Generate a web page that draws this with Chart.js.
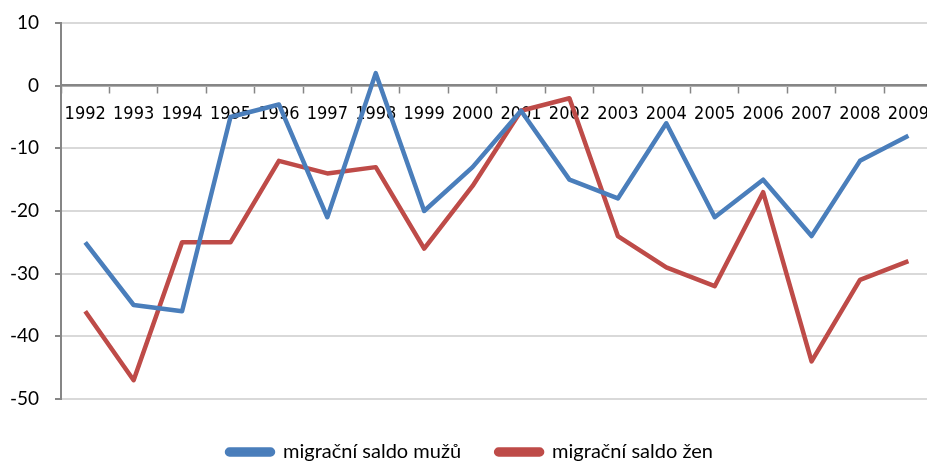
<!DOCTYPE html>
<html lang="cs">
<head>
    <meta charset="UTF-8">
    <title>Migrační saldo</title>
    <script src="https://cdn.jsdelivr.net/npm/chart.js"></script>
    <style>
        body {
            margin: 0;
            padding: 0;
            background: #fff;
            overflow: hidden;
        }

        .chart-box {
            width: 940px;
            height: 464px;
        }
    </style>
</head>
<body>
    <div class="chart-box">
        <canvas id="chart"></canvas>
    </div>

    <script>
        // data
        const years = ['1992', '1993', '1994', '1995', '1996', '1997', '1998', '1999', '2000',
                       '2001', '2002', '2003', '2004', '2005', '2006', '2007', '2008', '2009'];
        const saldoMuzu = [-25, -35, -36, -5, -3, -21, 2, -20, -13, -4, -15, -18, -6, -21, -15, -24, -12, -8];
        const saldoZen = [-36, -47, -25, -25, -12, -14, -13, -26, -16, -4, -2, -24, -29, -32, -17, -44, -31, -28];

        const axisGrey = '#868686';

        // push the legend a little lower, closer to the bottom edge
        const legendShift = {
            id: 'legendShift',
            afterLayout(chart) {
                chart.legend.top += 8;
                chart.legend.bottom += 8;
            }
        };

        new Chart(document.getElementById('chart'), {
            type: 'line',
            data: {
                labels: years,
                datasets: [{
                    label: 'migrační saldo mužů',
                    data: saldoMuzu,
                    borderColor: '#4a7ebb',
                    backgroundColor: '#4a7ebb',
                    borderWidth: 4.5,
                    pointRadius: 0,
                    tension: 0,
                    borderJoinStyle: 'round'
                }, {
                    label: 'migrační saldo žen',
                    data: saldoZen,
                    borderColor: '#be4b48',
                    backgroundColor: '#be4b48',
                    borderWidth: 4.5,
                    pointRadius: 0,
                    tension: 0,
                    borderJoinStyle: 'round'
                }]
            },
            options: {
                responsive: true,
                maintainAspectRatio: false,
                animation: false,
                layout: {
                    padding: { top: 23, left: 0, right: 0, bottom: 0 }
                },
                plugins: {
                    tooltip: { enabled: false },
                    legend: {
                        position: 'bottom',
                        labels: {
                            boxWidth: 46,
                            boxHeight: 5,
                            useBorderRadius: true,
                            borderRadius: 2.5,
                            padding: 35,
                            color: '#000',
                            font: { family: 'Lato', size: 20 }
                        }
                    }
                },
                scales: {
                    x: {
                        position: { y: 0 },
                        offset: true,
                        border: { color: axisGrey, width: 2.5 },
                        grid: {
                            offset: true,
                            drawOnChartArea: false,
                            tickLength: 7,
                            tickColor: axisGrey,
                            tickWidth: 1.5
                        },
                        ticks: {
                            color: '#000',
                            padding: 11,
                            maxRotation: 0,
                            autoSkip: false,
                            font: { family: '"Liberation Sans Narrow", "DejaVu Sans Condensed", sans-serif', size: 18 }
                        }
                    },
                    y: {
                        min: -50,
                        max: 10,
                        afterFit(scale) { scale.width = 61; },
                        border: { color: axisGrey, width: 2 },
                        grid: {
                            color: '#d9d9d9',
                            lineWidth: 2,
                            tickLength: 6,
                            tickColor: axisGrey
                        },
                        ticks: {
                            stepSize: 10,
                            color: '#000',
                            padding: 16,
                            font: { family: 'Lato', size: 19, lineHeight: 0.5 }
                        }
                    }
                }
            },
            plugins: [legendShift]
        });
    </script>
</body>
</html>
